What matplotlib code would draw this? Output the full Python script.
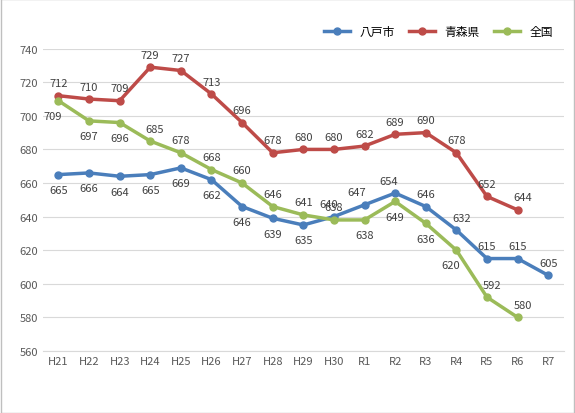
import matplotlib
matplotlib.use("Agg")
import matplotlib.pyplot as plt
import numpy as np

plt.rcParams['font.family'] = ['Noto Sans CJK JP', 'DejaVu Sans']

categories = ["H21","H22","H23","H24","H25","H26","H27","H28","H29","H30","R1","R2","R3","R4","R5","R6","R7"]
hachinohe = [665,666,664,665,669,662,646,639,635,640,647,654,646,632,615,615,605]
aomori = [712,710,709,729,727,713,696,678,680,680,682,689,690,678,652,644]
zenkoku = [709,697,696,685,678,668,660,646,641,638,638,649,636,620,592,580]

# label placement: 'a' above, 'b' below
pos_h = "bbbbbbbbbaaaaaaaa"
pos_z = "bbbaaaaaaabbbbaa"
dx_h = [0]*9 + [-4,-6,-5,0,4,0,0,0]
dx_z = [-4,0,0,3,0,0,0,0,0,0,0,0,0,-4,4,4]
dx_a = [0]*15 + [4]

fig = plt.figure(figsize=(5.75,4.14), dpi=100)
ax = fig.add_axes([0.075, 0.15, 0.905, 0.73])
x = np.arange(len(categories))
c_b, c_r, c_g = "#4a7ebb", "#be4b48", "#9bbb59"
ax.plot(x, hachinohe, color=c_b, lw=2.5, marker='o', ms=5, label="八戸市")
ax.plot(x[:len(aomori)], aomori, color=c_r, lw=2.5, marker='o', ms=5, label="青森県")
ax.plot(x[:len(zenkoku)], zenkoku, color=c_g, lw=2.5, marker='o', ms=5, label="全国")
fs = 8
def lab(vals, pos, dxs):
    for i, v in enumerate(vals):
        ax.annotate(str(v), (i, v), xytext=(dxs[i], 9 if pos[i] == 'a' else -11),
                    textcoords="offset points", ha='center', va='center', fontsize=fs, color="#404040")
lab(hachinohe, pos_h, dx_h)
lab(aomori, "a"*len(aomori), dx_a)
lab(zenkoku, pos_z, dx_z)
ax.set_ylim(560, 740)
ax.set_yticks(range(560, 741, 20))
ax.set_xlim(-0.5, len(categories)-0.5)
ax.set_xticks(x)
ax.set_xticklabels(categories)
ax.tick_params(labelsize=8, colors="#595959", length=0)
ax.grid(axis='y', color="#d9d9d9", lw=0.8)
ax.set_axisbelow(True)
for s in ["top","right","left"]:
    ax.spines[s].set_visible(False)
ax.spines["bottom"].set_color("#d9d9d9")
ax.legend(loc='lower right', bbox_to_anchor=(1.0, 1.0), ncol=3, frameon=False, fontsize=8.5,
          handlelength=2.2, columnspacing=1.2)
fig.patches.append(plt.Rectangle((0.001,0.001),0.998,0.998, transform=fig.transFigure,
                                 fill=False, edgecolor="#bfbfbf", lw=1))
fig.savefig("out.png", dpi=100)
